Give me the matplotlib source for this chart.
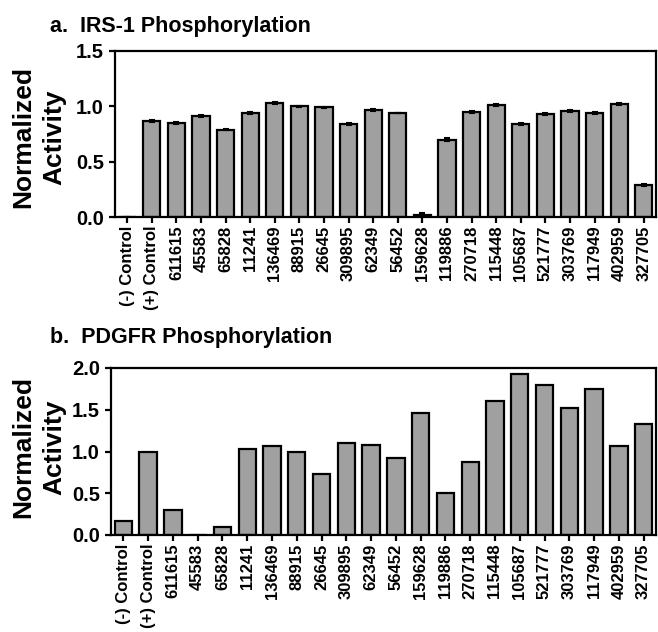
import numpy as np
import matplotlib.pyplot as plt

plt.rcParams['font.family'] = ['Liberation Sans', 'DejaVu Sans']
plt.rcParams['font.weight'] = 'bold'

compounds = ['(-) Control', '(+) Control', '611615', '45583', '65828', '11241',
             '136469', '88915', '26645', '309895', '62349', '56452', '159628',
             '119886', '270718', '115448', '105687', '521777', '303769',
             '117949', '402959', '327705']

irs1 = [0.0, 0.87, 0.85, 0.91, 0.79, 0.94, 1.03, 1.00, 0.99, 0.84, 0.97,
        0.94, 0.02, 0.70, 0.95, 1.01, 0.84, 0.93, 0.96, 0.94, 1.02, 0.29]
irs1_err = [0.0, 0.008, 0.006, 0.008, 0.008, 0.008, 0.008, 0.006, 0.006, 0.006, 0.01,
            0.004, 0.012, 0.015, 0.008, 0.01, 0.012, 0.008, 0.01, 0.006, 0.01, 0.012]

pdgfr = [0.17, 1.00, 0.30, 0.0, 0.09, 1.03, 1.06, 1.00, 0.73, 1.10, 1.08,
         0.92, 1.46, 0.50, 0.88, 1.61, 1.93, 1.80, 1.52, 1.75, 1.07, 1.33]

W, H = 658, 632
fig = plt.figure(figsize=(W / 100, H / 100), dpi=100)

def axes_px(left, right, top, bottom):
    return fig.add_axes([left / W, 1 - bottom / H, (right - left) / W, (bottom - top) / H])

def style(ax):
    for s in ax.spines.values():
        s.set_linewidth(1.6)
    ax.tick_params(axis='both', width=1.6, length=4.5, labelsize=14.5)
    ax.tick_params(axis='x', labelsize=12, pad=1.5)
    ax.set_xticks(np.arange(len(compounds)))
    ax.set_xticklabels(compounds, rotation=90, fontweight='bold')
    ax.set_xlim(-0.5, len(compounds) - 0.5)
    for lab in ax.get_yticklabels():
        lab.set_fontweight('bold')

def ylabel(y):
    fig.text(39 / W, 1 - y / H, 'Normalized\nActivity', fontsize=19, fontweight='bold',
             rotation=90, ha='center', va='center', linespacing=1.35, multialignment='center')

x = np.arange(len(compounds))

# panel a
ax1 = axes_px(115, 656, 51, 217)
ax1.bar(x, irs1, width=0.7, color='#a0a0a0', edgecolor='black', linewidth=1.6,
        yerr=irs1_err, error_kw=dict(ecolor='black', elinewidth=1.5, capsize=2.5, capthick=1.5),
        zorder=2)
ax1.set_ylim(0, 1.5)
ax1.set_yticks([0.0, 0.5, 1.0, 1.5])
ax1.set_yticklabels(['0.0', '0.5', '1.0', '1.5'])
style(ax1)
ylabel(137)
fig.text(50 / W, 1 - 32 / H, 'a.  IRS-1 Phosphorylation', fontsize=15.5, fontweight='bold', va='baseline')

# panel b
ax2 = axes_px(111, 656, 368, 535)
ax2.bar(x, pdgfr, width=0.7, color='#a0a0a0', edgecolor='black', linewidth=1.6, zorder=2)
ax2.set_ylim(0, 2.0)
ax2.set_yticks([0.0, 0.5, 1.0, 1.5, 2.0])
ax2.set_yticklabels(['0.0', '0.5', '1.0', '1.5', '2.0'])
style(ax2)
ylabel(447)
fig.text(50 / W, 1 - 343 / H, 'b.  PDGFR Phosphorylation', fontsize=15.5, fontweight='bold', va='baseline')

fig.savefig('out.png', dpi=100)
